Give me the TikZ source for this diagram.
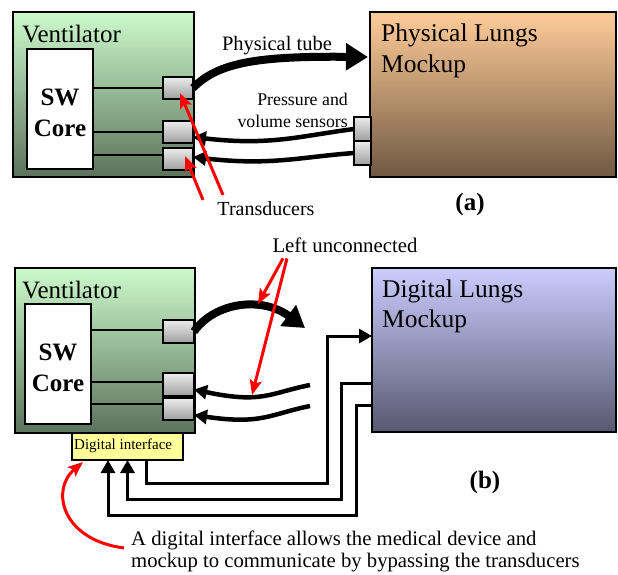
\documentclass[tikz,border=0pt]{standalone}
\usepackage{fontspec}
\setmainfont{Liberation Serif}
\usetikzlibrary{arrows.meta}
\definecolor{ventTop}{RGB}{204,250,204}
\definecolor{ventBot}{RGB}{92,114,92}
\definecolor{physTop}{RGB}{255,204,153}
\definecolor{physBot}{RGB}{112,88,66}
\definecolor{digTop}{RGB}{204,204,255}
\definecolor{digBot}{RGB}{88,88,112}
\definecolor{diFill}{RGB}{255,255,153}
\tikzset{
  box/.style={draw=black, line width=2pt, outer sep=0pt, inner sep=0pt, anchor=north west},
  tdbox/.style={box, top color=gray!15, bottom color=gray!75, minimum width=30pt, minimum height=22pt},
  snbox/.style={box, top color=gray!15, bottom color=gray!75, minimum width=17pt, minimum height=24pt},
  wire/.style={line width=2pt},
  tube/.style={line width=8pt, -{Triangle[length=22pt,width=26pt]}},
  sensor/.style={line width=4.5pt, -{Triangle[length=13pt,width=14pt]}},
  conn/.style={line width=3pt},
  connarrow/.style={conn, -{Triangle[length=13pt,width=14pt]}},
  redarrow/.style={red, line width=3pt, -{Stealth[length=15pt,width=12pt,inset=3pt]}},
  title/.style={font=\fontsize{25}{30}\selectfont, inner sep=0pt},
  label/.style={font=\fontsize{20.5}{24}\selectfont, inner sep=0pt},
}
\begin{document}
\begin{tikzpicture}[x=1pt,y=-1pt]
\useasboundingbox (0,0) rectangle (618,574);

% ===== (a) =====
\node[box, top color=ventTop, bottom color=ventBot, minimum width=181pt, minimum height=165pt] (ventA) at (13,12) {};
\node[title, anchor=base west] (ventAt) at (22,42) {Ventilator};
\node[box, fill=white, minimum width=66pt, minimum height=120pt] (swA) at (27,49) {};
\node[title, font=\fontsize{25}{30}\selectfont\bfseries, anchor=base] (swAt1) at (60,105) {SW};
\node[title, font=\fontsize{25}{30}\selectfont\bfseries, anchor=base] (swAt2) at (60,136) {Core};
\node[tdbox] (tA1) at (163,77) {};
\node[tdbox] (tA2) at (163,121) {};
\node[tdbox] (tA3) at (163,148) {};
\draw[wire] (swA.east |- tA1.west) -- (tA1.west);
\draw[wire] (swA.east |- tA2.west) -- (tA2.west);
\draw[wire] ([yshift=4pt]swA.east |- tA3.west) -- ([yshift=4pt]tA3.west);

\node[box, top color=physTop, bottom color=physBot, minimum width=246pt, minimum height=165pt] (lungsA) at (370,12) {};
\node[title, font=\fontsize{25.5}{30}\selectfont, anchor=base west] (lungsAt1) at (381,41) {Physical Lungs};
\node[title, font=\fontsize{25.5}{30}\selectfont, anchor=base west] (lungsAt2) at (381,72) {Mockup};
\node[snbox] (sA1) at (354,117) {};
\node[snbox] (sA2) at (354,141) {};

\coordinate (tubeEndA) at (368,57);
\draw[tube] (tA1.east) .. controls (218,62) and (260,56) .. (tubeEndA);
\node[label, anchor=base] (tubeLbl) at (277,50) {Physical tube};

\draw[sensor] (sA1.west) .. controls (300,136) and (270,146) .. ([yshift=-5pt]tA2.east);
\draw[sensor] (sA2.west) .. controls (300,157) and (270,166) .. ([yshift=2pt]tA3.east);
\node[label, font=\fontsize{17.8}{22}\selectfont, anchor=base east] (presLbl1) at (348,105) {Pressure and};
\node[label, font=\fontsize{17.8}{22}\selectfont, anchor=base east] (presLbl2) at (348,127) {volume sensors};

\node[label, font=\fontsize{20}{24}\selectfont, anchor=base] (trans) at (266,215) {Transducers};
\draw[redarrow] ([xshift=-43pt,yshift=6pt]trans.north) -- ([xshift=2pt,yshift=-5pt]tA1.center);
\draw[redarrow] ([xshift=-63pt,yshift=1pt]trans.north) -- ([xshift=7pt,yshift=3pt]tA3.center);

\node[title, font=\fontsize{25}{30}\selectfont\bfseries, anchor=base] (capA) at (470,210) {(a)};

% ===== (b) =====
\node[box, top color=ventTop, bottom color=ventBot, minimum width=180pt, minimum height=165pt] (ventB) at (15,268) {};
\node[title, anchor=base west] (ventBt) at (22,298) {Ventilator};
\node[box, fill=white, minimum width=66pt, minimum height=120pt] (swB) at (25,304) {};
\node[title, font=\fontsize{25}{30}\selectfont\bfseries, anchor=base] (swBt1) at (58,360) {SW};
\node[title, font=\fontsize{25}{30}\selectfont\bfseries, anchor=base] (swBt2) at (58,391) {Core};
\node[tdbox, minimum width=31pt, minimum height=23pt] (tB1) at (163,320) {};
\node[tdbox, minimum width=31pt, minimum height=23pt] (tB2) at (163,373) {};
\node[tdbox, minimum width=31pt] (tB3) at (163,398) {};
\draw[wire] ([yshift=1.5pt]swB.east |- tB1.west) -- ([yshift=1.5pt]tB1.west);
\draw[wire] ([yshift=2.5pt]swB.east |- tB2.west) -- ([yshift=2.5pt]tB2.west);
\draw[wire] ([yshift=5pt]swB.east |- tB3.west) -- ([yshift=5pt]tB3.west);
\node[box, fill=diFill, minimum width=111pt, minimum height=27pt] (di) at (72,433) {};
\node[inner sep=0pt, font=\fontsize{15}{18}\selectfont, anchor=base west] (dit) at (74,449) {Digital interface};

\node[box, top color=digTop, bottom color=digBot, minimum width=244pt, minimum height=164pt] (lungsB) at (372,268) {};
\node[title, font=\fontsize{25.5}{30}\selectfont, anchor=base west] (lungsBt1) at (382,297) {Digital Lungs};
\node[title, font=\fontsize{25.5}{30}\selectfont, anchor=base west] (lungsBt2) at (382,327) {Mockup};

\coordinate (tubeEndB) at (305,328);
\draw[tube, -{Triangle[length=21pt,width=25pt]}] (tB1.east) .. controls (215,302) and (262,296) .. (tubeEndB);

\coordinate (waveB1) at (310,385);
\coordinate (waveB2) at (310,406);
\draw[sensor] (waveB1) .. controls (270,393) and (262,404) .. ([yshift=-5pt]tB2.east);
\draw[sensor] (waveB2) .. controls (270,414) and (262,425) .. ([yshift=-6pt]tB3.east);

\draw[connarrow] ([xshift=18.5pt]di.south) |- (327,483) |- ([yshift=14pt]lungsB.west);
\draw[connarrow] ([yshift=-33pt]lungsB.west) -| (341,499) -| (di.south);
\draw[connarrow] ([yshift=-55pt]lungsB.west) -| (356,515) -| ([xshift=-19.5pt]di.south);

\node[label, font=\fontsize{20.8}{24}\selectfont, anchor=base] (leftLbl) at (345,252) {Left unconnected};
\coordinate (onTubeB) at (258,304);
\coordinate (onWaveB) at (252,395);
\draw[redarrow] ([xshift=-62pt,yshift=-6pt]leftLbl.south) -- (onTubeB);
\draw[redarrow] ([xshift=-58pt,yshift=-6pt]leftLbl.south) -- (onWaveB);

\node[title, font=\fontsize{25}{30}\selectfont\bfseries, anchor=base] (capB) at (485,488) {(b)};

\node[label, font=\fontsize{20.7}{24}\selectfont, anchor=base west] (noteA) at (131,545) {A digital interface allows the medical device and};
\node[label, font=\fontsize{20.7}{24}\selectfont, anchor=base west] (noteB) at (131,567) {mockup to communicate by bypassing the transducers};
\draw[redarrow] ([xshift=-7pt,yshift=-8pt]noteA.west) .. controls (62,540) and (50,490) .. ([xshift=11pt,yshift=-2pt]di.south west);
\end{tikzpicture}
\end{document}
